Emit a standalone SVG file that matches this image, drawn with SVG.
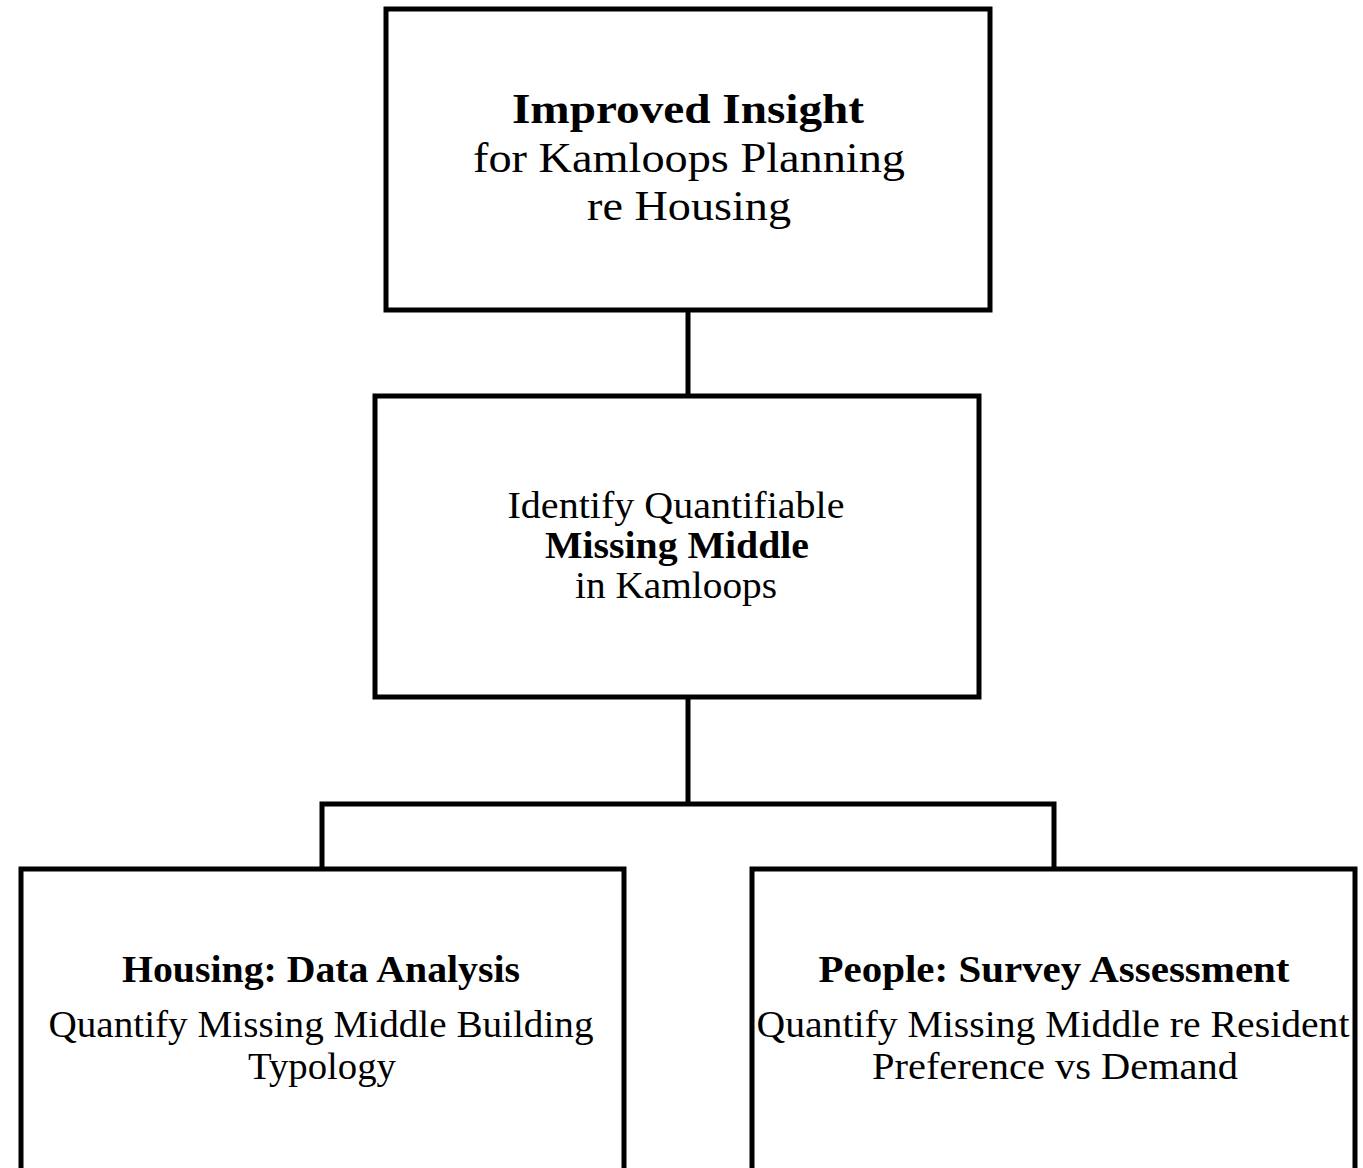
<svg xmlns="http://www.w3.org/2000/svg" width="1363" height="1168" viewBox="0 0 1363 1168">
<style>
.box{fill:#fff;stroke:#000;stroke-width:5}
.con{fill:none;stroke:#000;stroke-width:5}
text{font-family:"Liberation Serif","DejaVu Serif",serif;fill:#000;text-anchor:middle}
.b{font-weight:bold}
</style>
<rect width="1363" height="1168" fill="#fff"/>
<g id="connectors">
<line class="con" x1="688" y1="311" x2="688" y2="396"/>
<polyline class="con" points="688,698 688,804"/>
<polyline class="con" points="322,868 322,804 1054,804 1054,868"/>
</g>
<g id="node-top">
<rect class="box" x="386" y="9" width="604" height="301"/>
<text class="b" x="688" y="123" font-size="42" textLength="352" lengthAdjust="spacingAndGlyphs">Improved Insight</text>
<text x="689" y="172" font-size="42" textLength="432" lengthAdjust="spacingAndGlyphs">for Kamloops Planning</text>
<text x="689" y="220" font-size="42" textLength="204" lengthAdjust="spacingAndGlyphs">re Housing</text>
</g>
<g id="node-mid">
<rect class="box" x="375" y="396" width="604" height="301"/>
<text x="676" y="518" font-size="37" textLength="337" lengthAdjust="spacingAndGlyphs">Identify Quantifiable</text>
<text class="b" x="677" y="558" font-size="37" textLength="264" lengthAdjust="spacingAndGlyphs">Missing Middle</text>
<text x="676" y="598" font-size="37" textLength="202" lengthAdjust="spacingAndGlyphs">in Kamloops</text>
</g>
<g id="node-left">
<rect class="box" x="21" y="869" width="603" height="310"/>
<text class="b" x="321" y="982" font-size="38" textLength="398" lengthAdjust="spacingAndGlyphs">Housing: Data Analysis</text>
<text x="321" y="1037" font-size="38" textLength="545" lengthAdjust="spacingAndGlyphs">Quantify Missing Middle Building</text>
<text x="322" y="1079" font-size="38" textLength="148" lengthAdjust="spacingAndGlyphs">Typology</text>
</g>
<g id="node-right">
<rect class="box" x="752" y="869" width="603" height="310"/>
<text class="b" x="1054" y="982" font-size="38" textLength="471" lengthAdjust="spacingAndGlyphs">People: Survey Assessment</text>
<text x="1053" y="1037" font-size="38" textLength="593" lengthAdjust="spacingAndGlyphs">Quantify Missing Middle re Resident</text>
<text x="1055" y="1079" font-size="38" textLength="366" lengthAdjust="spacingAndGlyphs">Preference vs Demand</text>
</g>
</svg>
